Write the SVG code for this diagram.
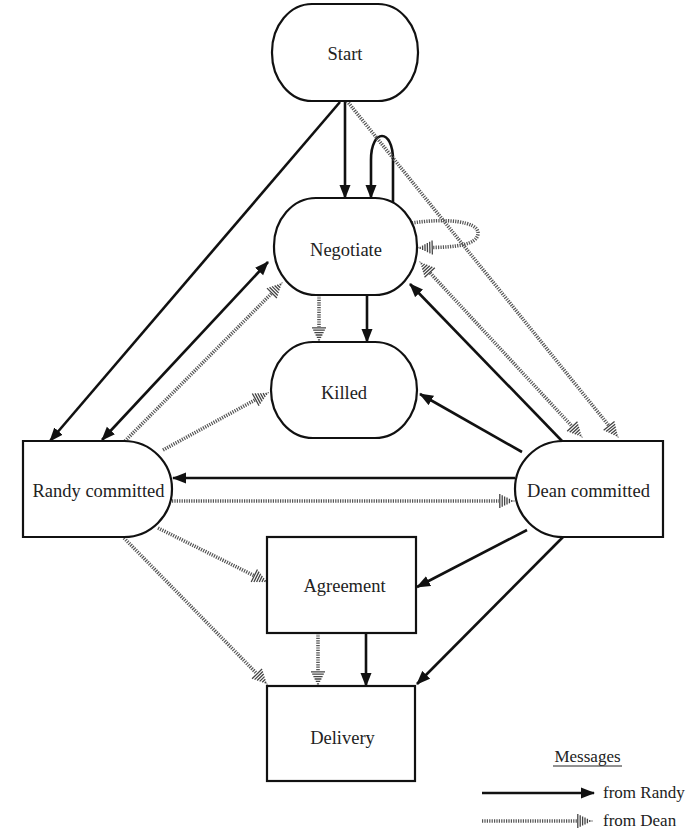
<svg xmlns="http://www.w3.org/2000/svg" width="693" height="837" viewBox="0 0 693 837">
<style>
.node{fill:#fff;stroke:#111;stroke-width:2.2}
.lbl{font-family:"Liberation Serif","Times New Roman",serif;font-size:18.5px;fill:#222;text-anchor:middle}
.leg{font-family:"Liberation Serif","Times New Roman",serif;font-size:17px;fill:#222}
.r{fill:none;stroke:#111;stroke-width:2.6;marker-end:url(#ar)}
.d{fill:none;stroke:#555;stroke-width:3.6;stroke-dasharray:1.2 1.2;marker-end:url(#ad)}
</style>
<defs>
<marker id="ar" markerUnits="userSpaceOnUse" markerWidth="16" markerHeight="12" refX="13" refY="6" orient="auto-start-reverse" viewBox="0 0 16 12">
<path d="M0,0.5 L14,6 L0,11.5 Z" fill="#111"/>
</marker>
<marker id="ad" markerUnits="userSpaceOnUse" markerWidth="17" markerHeight="15" refX="0" refY="7.5" orient="auto-start-reverse" viewBox="0 0 17 15" overflow="visible">
<path d="M0.8,0.5 V14.5 M3.2,1.7 V13.3 M5.6,2.9 V12.1 M8,4.1 V10.9 M10.4,5.3 V9.7 M12.8,6.4 V8.6 M15,7 V8" stroke="#444" stroke-width="1.3" fill="none"/>
</marker>
</defs>

<g id="connectors">
<!-- from Randy (solid) -->
<path class="r" d="M345,101 L345,198"/>
<path class="r" d="M393,204 L393,160 C393,128 371,128 371,160 L371,198"/>
<path class="r" d="M340,102 L50,441"/>
<path class="r" d="M268,262 L102,440" style="marker-start:url(#ar)"/>
<path class="r" d="M562,441 L410,284"/>
<path class="r" d="M522,452 L420,394"/>
<path class="r" d="M367,295 L367,342"/>
<path class="r" d="M515,478 L173,478"/>
<path class="r" d="M527,530 L417,587"/>
<path class="r" d="M563,537 L417,684"/>
<path class="r" d="M366,633 L366,686"/>
<!-- from Dean (hatched) -->
<path class="d" d="M347,101 L608.6,425.3"/>
<path class="d" d="M412,223 C445,218 478,221 478,233 C478,245 455,247 433,247.5"/>
<path class="d" d="M430.2,273 L571.8,426" style="marker-start:url(#ad)"/>
<path class="d" d="M319,295 L319,327"/>
<path class="d" d="M125,441 L271.4,293.6"/>
<path class="d" d="M163,450 L255,400"/>
<path class="d" d="M172,501 L499,501"/>
<path class="d" d="M158,528 L253.6,575.4"/>
<path class="d" d="M124,538 L256.5,673.3"/>
<path class="d" d="M318,633 L318,671"/>
</g>

<g id="start">
<rect class="node" x="272" y="4" width="146" height="97" rx="40" ry="48"/>
<text class="lbl" x="345" y="60">Start</text>
</g>
<g id="negotiate">
<rect class="node" x="274" y="198" width="143" height="97" rx="42" ry="48"/>
<text class="lbl" x="346" y="256">Negotiate</text>
</g>
<g id="killed">
<rect class="node" x="271" y="342" width="146" height="96" rx="42" ry="48"/>
<text class="lbl" x="344" y="399">Killed</text>
</g>
<g id="randy-committed">
<path class="node" d="M23,441 H124 A48,48 0 0 1 124,537 H23 Z"/>
<text class="lbl" x="98.5" y="497">Randy committed</text>
</g>
<g id="dean-committed">
<path class="node" d="M663,441 H563 A48,48 0 0 0 563,537 H663 Z"/>
<text class="lbl" x="588.5" y="497">Dean committed</text>
</g>
<g id="agreement">
<rect class="node" x="267" y="537" width="149" height="96"/>
<text class="lbl" x="344.5" y="592">Agreement</text>
</g>
<g id="delivery">
<rect class="node" x="267" y="686" width="148" height="95"/>
<text class="lbl" x="342.5" y="744">Delivery</text>
</g>

<g id="legend">
<text class="leg" x="587.5" y="762" text-anchor="middle">Messages</text>
<line x1="553" y1="766" x2="622" y2="766" stroke="#222" stroke-width="1"/>
<path class="r" d="M482,793 L594,793"/>
<text class="leg" x="603" y="798">from Randy</text>
<path class="d" d="M482,821 L577,821"/>
<text class="leg" x="603" y="826">from Dean</text>
</g>
</svg>
